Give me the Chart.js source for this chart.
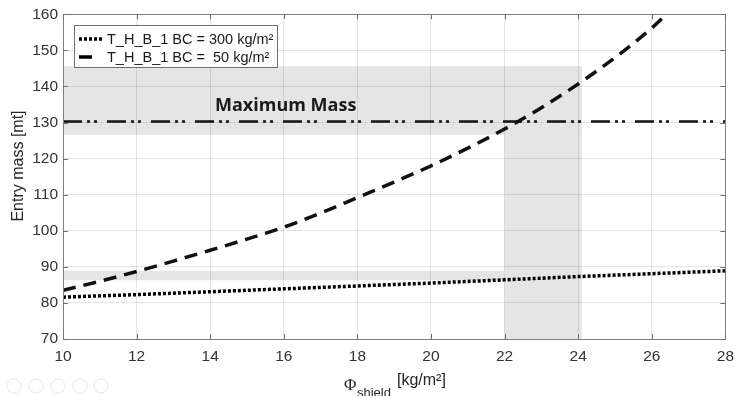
<!DOCTYPE html>
<html lang="en">
<head>
    <meta charset="UTF-8">
    <title>Entry mass vs shield</title>
    <style>
        body { margin: 0; background: white; }
        canvas { display: block; }
    </style>
</head>
<body>
    <canvas id="myChart" width="742" height="396"></canvas>

    <script src="https://cdn.jsdelivr.net/npm/chart.js"></script>
    <script>
        // data
        let phiBC300 = [10, 12, 14, 16, 18, 20, 22, 24, 26, 28];
        let massBC300 = [81.6, 82.3, 83.1, 83.9, 84.7, 85.5, 86.4, 87.3, 88.1, 88.9];

        let phiBC50 = [10, 11, 12, 13, 14, 15, 16, 17, 18, 19, 20, 21, 22, 23, 24, 25, 26, 26.5];
        let massBC50 = [83.5, 86.0, 88.7, 91.6, 94.6, 97.7, 101.0, 104.9, 109.2, 113.5, 118.0, 122.9, 128.2, 134.1, 140.7, 148.0, 156.2, 161.0];

        let maxMassPhi = [10, 28];
        let maxMass = [130.3, 130.3];

        // grey bands: [x0, x1, y0, y1]
        let bandX0 = [10, 22, 10];
        let bandX1 = [24.1, 24.1, 22];
        let bandY0 = [126.6, 70, 86.3];
        let bandY1 = [145.6, 145.6, 88.9];

        let xTicks = [10, 12, 14, 16, 18, 20, 22, 24, 26, 28];
        let yTicks = [70, 80, 90, 100, 110, 120, 130, 140, 150, 160];

        let labels = ['T_H_B_1 BC = 300 kg/m²', 'T_H_B_1 BC =  50 kg/m²'];

        function toPoints(xs, ys) {
            let pts = [];
            for (let i = 0; i < xs.length; i++) {
                pts.push({ x: xs[i], y: ys[i] });
            }
            return pts;
        }

        let font = '"Liberation Sans", Arial, sans-serif';

        // shaded bands under the grid
        let bandPlugin = {
            id: 'bands',
            beforeDraw(chart) {
                let ctx = chart.ctx;
                let x = chart.scales.x, y = chart.scales.y;
                ctx.save();
                ctx.fillStyle = '#e5e5e5';
                for (let i = 0; i < bandX0.length; i++) {
                    let l = x.getPixelForValue(bandX0[i]);
                    let r = x.getPixelForValue(bandX1[i]);
                    let t = y.getPixelForValue(bandY1[i]);
                    let b = y.getPixelForValue(bandY0[i]);
                    ctx.fillRect(l, t, r - l, b - t);
                }
                ctx.restore();
            }
        };

        // box, inner ticks, legend, titles, annotation
        let decoPlugin = {
            id: 'deco',
            afterDraw(chart) {
                let ctx = chart.ctx;
                let a = chart.chartArea;
                let x = chart.scales.x, y = chart.scales.y;
                ctx.save();

                // box
                ctx.strokeStyle = '#808080';
                ctx.lineWidth = 1;
                ctx.strokeRect(Math.round(a.left) + 0.5, Math.round(a.top) + 0.5,
                    Math.round(a.right - a.left), Math.round(a.bottom - a.top));

                // inner ticks
                ctx.strokeStyle = '#707070';
                ctx.beginPath();
                xTicks.forEach(v => {
                    let px = Math.round(x.getPixelForValue(v)) + 0.5;
                    ctx.moveTo(px, a.bottom); ctx.lineTo(px, a.bottom - 5);
                    ctx.moveTo(px, a.top); ctx.lineTo(px, a.top + 5);
                });
                yTicks.forEach(v => {
                    let py = Math.round(y.getPixelForValue(v)) + 0.5;
                    ctx.moveTo(a.left, py); ctx.lineTo(a.left + 5, py);
                    ctx.moveTo(a.right, py); ctx.lineTo(a.right - 5, py);
                });
                ctx.stroke();

                // annotation text
                ctx.fillStyle = '#1a1a1a';
                ctx.font = 'bold 18px "Open Sans", ' + font;
                ctx.textAlign = 'left';
                ctx.textBaseline = 'alphabetic';
                ctx.fillText('Maximum Mass', 215, 111);

                // legend
                let lx = 74, ly = 25, lw = 203, lh = 42;
                ctx.fillStyle = 'white';
                ctx.fillRect(lx, ly, lw, lh);
                ctx.strokeStyle = '#6e6e6e';
                ctx.strokeRect(lx + 0.5, ly + 0.5, lw, lh);
                let ds = chart.data.datasets;
                let rows = [39, 57];
                let sampleEnd = [103, 92];
                ctx.textBaseline = 'middle';
                for (let i = 0; i < 2; i++) {
                    ctx.strokeStyle = '#000';
                    ctx.lineWidth = ds[i].borderWidth;
                    ctx.setLineDash(ds[i].borderDash);
                    ctx.beginPath();
                    ctx.moveTo(79, rows[i]);
                    ctx.lineTo(sampleEnd[i], rows[i]);
                    ctx.stroke();
                    ctx.setLineDash([]);
                    ctx.fillStyle = '#1a1a1a';
                    ctx.font = '14.5px ' + font;
                    ctx.fillText(ds[i].label, 107, rows[i] + 1);
                }

                // y title
                ctx.fillStyle = '#262626';
                ctx.save();
                ctx.translate(19, 166);
                ctx.rotate(-Math.PI / 2);
                ctx.textAlign = 'center';
                ctx.font = '16px ' + font;
                ctx.fillText('Entry mass [mt]', 0, 0);
                ctx.restore();

                // x title
                ctx.textAlign = 'left';
                ctx.textBaseline = 'alphabetic';
                ctx.font = '17px "Liberation Serif", "Times New Roman", serif';
                ctx.fillText('\u03A6', 344, 390);
                ctx.font = '13px ' + font;
                ctx.fillText('shield', 357, 397);
                ctx.font = '16px ' + font;
                ctx.fillText('[kg/m\u00B2]', 397, 385);

                // faint slideshow controls bottom-left
                ctx.strokeStyle = '#e6e6e6';
                ctx.lineWidth = 1;
                [14, 36, 58, 80, 101].forEach(cx => {
                    ctx.beginPath();
                    ctx.arc(cx, 386, 7, 0, Math.PI * 2);
                    ctx.stroke();
                });
                ctx.restore();
            }
        };

        let ctx = document.getElementById('myChart');
        let myChart = new Chart(ctx, {
            type: 'scatter',
            data: {
                datasets: [{
                    label: labels[0],
                    data: toPoints(phiBC300, massBC300),
                    showLine: true,
                    borderColor: '#000',
                    borderWidth: 3.5,
                    borderDash: [3, 2],
                    pointRadius: 0,
                    tension: 0,
                    clip: 0
                }, {
                    label: labels[1],
                    data: toPoints(phiBC50, massBC50),
                    showLine: true,
                    borderColor: '#111',
                    borderWidth: 3.5,
                    borderDash: [13, 8],
                    pointRadius: 0,
                    cubicInterpolationMode: 'monotone',
                    clip: 0
                }, {
                    label: 'Maximum Mass',
                    data: toPoints(maxMassPhi, maxMass),
                    showLine: true,
                    borderColor: '#111',
                    borderWidth: 2.5,
                    borderDash: [19, 5, 3, 4, 3, 10],
                    pointRadius: 0,
                    clip: 0
                }]
            },
            options: {
                responsive: false,
                animation: false,
                devicePixelRatio: 1,
                layout: { padding: { top: 11, right: 10, left: 0, bottom: 0 } },
                plugins: {
                    legend: { display: false },
                    tooltip: { enabled: false }
                },
                scales: {
                    x: {
                        type: 'linear',
                        min: 10,
                        max: 28,
                        afterFit: s => { s.height = 57; },
                        afterBuildTicks: s => { s.ticks = xTicks.map(v => ({ value: v })); },
                        grid: { color: 'rgba(0,0,0,0.1)', drawTicks: false },
                        border: { display: false },
                        ticks: {
                            padding: 8,
                            color: '#333',
                            font: { family: font, size: 15.5 }
                        }
                    },
                    y: {
                        min: 70,
                        max: 160,
                        afterFit: s => { s.width = 63; },
                        afterBuildTicks: s => { s.ticks = yTicks.map(v => ({ value: v })); },
                        grid: { color: 'rgba(0,0,0,0.1)', drawTicks: false },
                        border: { display: false },
                        ticks: {
                            padding: 5,
                            color: '#333',
                            font: { family: font, size: 15.5 }
                        }
                    }
                }
            },
            plugins: [bandPlugin, decoPlugin]
        });
    </script>
</body>
</html>
